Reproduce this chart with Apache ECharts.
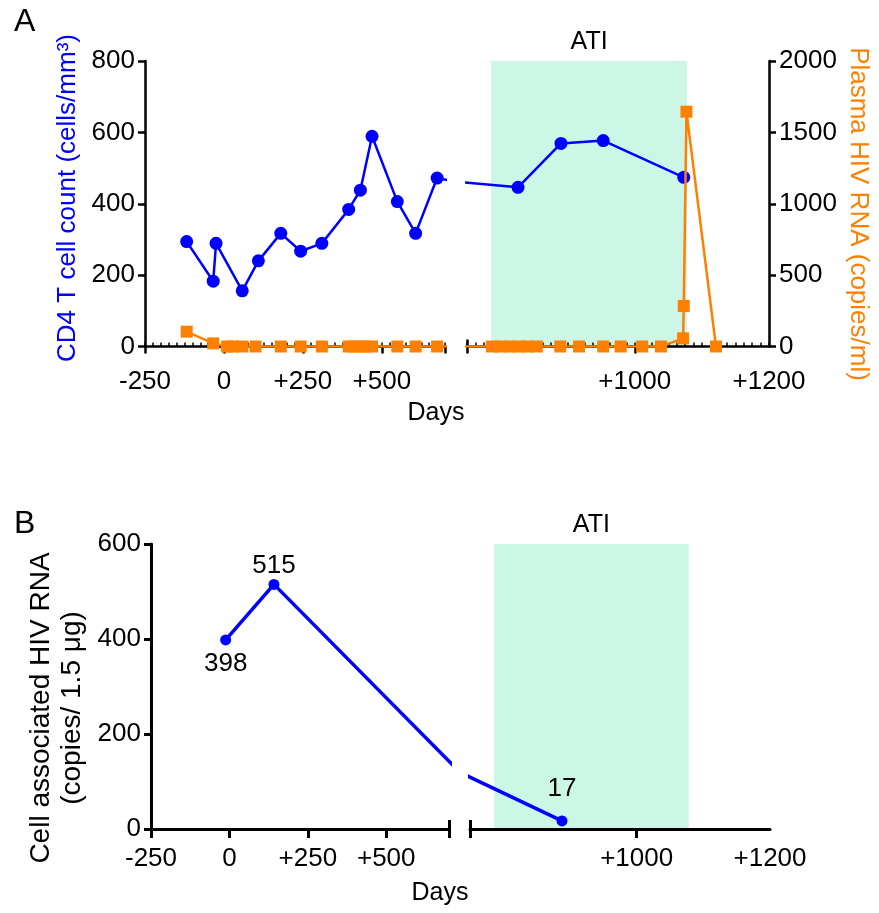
<!DOCTYPE html>
<html><head><meta charset="utf-8">
<script src="https://cdn.jsdelivr.net/npm/echarts@6/dist/echarts.min.js"></script>
<style>html,body{margin:0;padding:0;background:#fff}#c{width:879px;height:913px}</style>
</head><body><div id="c"></div>
<script>
// ---------- data ----------
const cd4Days   = [-118, -34, -25, 58, 109, 180, 243, 310, 395, 432, 469, 549, 607, 675, 826, 890, 953, 1073];
const cd4Values = [294, 183, 289, 156, 240, 317, 267, 289, 384, 438, 589, 406, 317, 472, 446, 569, 577, 474];

const rnaDays   = [-118, -34, 10, 28, 58, 100, 180, 243, 310, 395, 410, 432, 450, 469, 549, 607, 675,
                   787, 800, 814, 827, 840, 854, 889, 917, 953, 979, 1011, 1039, 1072, 1073, 1077, 1121];
const rnaValues = [104, 22, 0, 0, 0, 0, 0, 0, 0, 0, 0, 0, 0, 0, 0, 0, 0,
                   0, 0, 0, 0, 0, 0, 0, 0, 0, 0, 0, 0, 57, 284, 1645, 0];

const caDays   = [-12, 142, 888];
const caValues = [398, 515, 17];

const atiStart = 786, atiEnd = 1078;
const xLeftMin = -250, xLeftMax = 700, xRightMin = 750, xRightMax = 1200;
const xLabelsLeft = [-250, 0, 250, 500];
const xLabelsRight = [1000, 1200];

// ---------- style ----------
const FONT = '"Liberation Sans", Arial, sans-serif';
const BLUE = '#0000ff', ORANGE = '#ff8000', MINT = '#ccf6e6';
const pairs = (xs, ys) => xs.map((x, i) => [x, ys[i]]);
const fmtX = v => (v > 0 ? '+' + v : String(v));

function mainX(grid, min, max, interval, tickVals, labelVals, lw, tickLen, fontSize, margin) {
  return {
    type: 'value', gridIndex: grid, min, max, interval, position: 'bottom', z: 1.5,
    axisLine: { show: true, onZero: false, lineStyle: { color: '#000', width: lw } },
    axisTick: { show: true, inside: false, length: tickLen, customValues: tickVals,
                lineStyle: { color: '#000', width: lw } },
    axisLabel: { show: true, customValues: labelVals, formatter: fmtX, color: '#000',
                 fontSize, fontFamily: FONT, margin },
    splitLine: { show: false }
  };
}
function overlayX(grid, min, max, interval, tickVals, len, lw) {
  const ax = {
    type: 'value', gridIndex: grid, min, max, interval, position: 'bottom', z: 1.5,
    axisLine: { show: false, onZero: false },
    axisTick: { show: true, inside: true, length: len, lineStyle: { color: '#000', width: lw } },
    axisLabel: { show: false }, splitLine: { show: false }
  };
  if (tickVals) ax.axisTick.customValues = tickVals;
  return ax;
}
function yAx(grid, pos, max, interval, show, lw, fontSize) {
  return {
    type: 'value', gridIndex: grid, position: pos, min: 0, max, interval, show,
    axisLine: { show: true, onZero: false, lineStyle: { color: '#000', width: lw } },
    axisTick: { show: true, inside: false, length: 7, lineStyle: { color: '#000', width: lw } },
    axisLabel: { color: '#000', fontSize, fontFamily: FONT, margin: 10, formatter: v => String(v) },
    splitLine: { show: false }
  };
}

const cd4 = pairs(cd4Days, cd4Values);
const rna = pairs(rnaDays, rnaValues);
const ca = pairs(caDays, caValues);
const caLabelStyle = [
  { position: 'bottom', distance: 5 },
  { position: 'top', distance: 0 },
  { position: 'top', distance: 14 }
];
const caData = ca.map((p, i) => ({ value: p, label: caLabelStyle[i] }));

const cd4Series = (xi, yi) => ({
  type: 'line', xAxisIndex: xi, yAxisIndex: yi, data: cd4, clip: true, z: 3,
  symbol: 'circle', symbolSize: 13, itemStyle: { color: BLUE },
  lineStyle: { color: BLUE, width: 2.5 }, animation: false
});
const rnaSeries = (xi, yi) => ({
  type: 'line', xAxisIndex: xi, yAxisIndex: yi, data: rna, clip: true, z: 4,
  symbol: 'rect', symbolSize: 12, itemStyle: { color: ORANGE },
  lineStyle: { color: ORANGE, width: 2.5 }, animation: false
});
const caSeries = (xi, yi) => ({
  type: 'line', xAxisIndex: xi, yAxisIndex: yi, data: caData, clip: true, z: 3,
  symbol: 'circle', symbolSize: 11, itemStyle: { color: BLUE },
  lineStyle: { color: BLUE, width: 3.5 }, animation: false,
  label: { show: true, color: '#000', fontSize: 26, fontFamily: FONT,
           formatter: p => String(p.value[1]) }
});
const atiSeries = (xi, yi) => ({
  type: 'line', xAxisIndex: xi, yAxisIndex: yi, data: [], z: 1, animation: false,
  markArea: {
    silent: true, itemStyle: { color: MINT },
    label: { show: true, position: 'top', distance: 6, color: '#000', fontSize: 25, fontFamily: FONT },
    data: [[{ xAxis: atiStart, name: 'ATI' }, { xAxis: atiEnd }]]
  }
});

const option = {
  animation: false,
  backgroundColor: '#fff',
  grid: [
    { left: 145, top: 61, width: 300, height: 285.5 },
    { left: 467, top: 61, width: 302, height: 285.5 },
    { left: 151, top: 544, width: 298, height: 285 },
    { left: 470, top: 544, width: 300, height: 285 }
  ],
  xAxis: [
    mainX(0, xLeftMin, xLeftMax, 250, [-250, 0, 250, 500, 700], xLabelsLeft, 2.5, 7, 26, 22),
    overlayX(0, xLeftMin, xLeftMax, 25, null, 4, 1.5),
    mainX(1, xRightMin, xRightMax, 50, [750, 1000], xLabelsRight, 2.5, 7, 26, 22),
    overlayX(1, xRightMin, xRightMax, 12.5, null, 4, 1.5),
    overlayX(1, xRightMin, xRightMax, 50, [750], 7, 2.5),
    mainX(2, xLeftMin, xLeftMax, 250, [-250, 0, 250, 500, 700], xLabelsLeft, 3, 9, 26, 17),
    overlayX(2, xLeftMin, xLeftMax, 250, [700], 9, 3),
    mainX(3, xRightMin, xRightMax, 50, [750, 1000], xLabelsRight, 3, 9, 26, 17),
    overlayX(3, xRightMin, xRightMax, 50, [750], 9, 3)
  ],
  yAxis: [
    yAx(0, 'left', 800, 200, true, 2.5, 26),
    yAx(0, 'right', 2000, 500, false, 2.5, 26),
    yAx(1, 'left', 800, 200, false, 2.5, 26),
    yAx(1, 'right', 2000, 500, true, 2.5, 26),
    yAx(2, 'left', 600, 200, true, 3, 26),
    yAx(3, 'left', 600, 200, false, 3, 26)
  ],
  series: [
    atiSeries(2, 2),
    cd4Series(0, 0), cd4Series(2, 2),
    rnaSeries(0, 1), rnaSeries(2, 3),
    atiSeries(7, 5),
    caSeries(5, 4), caSeries(7, 5)
  ],
  graphic: [
    { type: 'text', x: 14, y: 6, style: { text: 'A', fontSize: 32, fontFamily: FONT, fill: '#000' } },
    { type: 'text', x: 14, y: 508, style: { text: 'B', fontSize: 32, fontFamily: FONT, fill: '#000' } },
    { type: 'text', x: 68, y: 198, rotation: Math.PI / 2,
      style: { text: 'CD4 T cell count (cells/mm³)', fontSize: 26, fontFamily: FONT, fill: BLUE,
               align: 'center', verticalAlign: 'middle' } },
    { type: 'text', x: 858, y: 214, rotation: -Math.PI / 2,
      style: { text: 'Plasma HIV RNA (copies/ml)', fontSize: 26, fontFamily: FONT, fill: ORANGE,
               align: 'center', verticalAlign: 'middle' } },
    { type: 'text', x: 436, y: 413,
      style: { text: 'Days', fontSize: 25, fontFamily: FONT, fill: '#000', align: 'center', verticalAlign: 'middle' } },
    { type: 'text', x: 440, y: 893,
      style: { text: 'Days', fontSize: 25, fontFamily: FONT, fill: '#000', align: 'center', verticalAlign: 'middle' } },
    { type: 'text', x: 57, y: 708, rotation: Math.PI / 2,
      style: { text: 'Cell associated HIV RNA\n(copies/ 1.5 μg)', fontSize: 28, lineHeight: 31,
               fontFamily: FONT, fill: '#000', align: 'center', verticalAlign: 'middle' } }
  ]
};
const chart = echarts.init(document.getElementById('c'));
chart.setOption(option);
</script>
</body></html>
